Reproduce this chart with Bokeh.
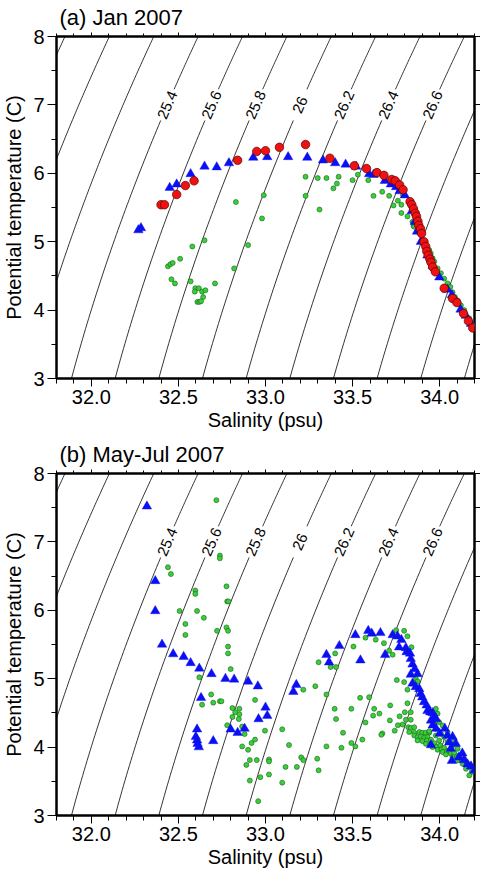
import numpy as np
from bokeh.plotting import figure
from bokeh.models import Range1d, LinearAxis, FixedTicker, PrintfTickFormatter, CustomJSTickFormatter
from bokeh.layouts import column
from bokeh.embed import file_html
from bokeh.resources import INLINE
from bokeh.core.properties import value

# ---------------- data ----------------
x_major_ticks = [32.0, 32.5, 33.0, 33.5, 34.0]
x_minor_ticks = [round(31.8 + 0.1 * i, 1) for i in range(25)]
y_major_ticks = [3, 4, 5, 6, 7, 8]
y_minor_ticks = [3.5, 4.5, 5.5, 6.5, 7.5]
y_right_ticks = [3, 3.5, 4, 4.5, 5, 5.5, 6, 6.5, 7, 7.5, 8]

sigma_levels = [24.4, 24.6, 24.8, 25.0, 25.2, 25.4, 25.6, 25.8, 26.0, 26.2,
                26.4, 26.6, 26.8, 27.0, 27.2, 27.4, 27.6]
label_levels = [25.4, 25.6, 25.8, 26.0, 26.2, 26.4, 26.6]
label_texts = ["25.4", "25.6", "25.8", "26", "26.2", "26.4", "26.6"]
label_temp = 7.0

# Panel (a) Jan 2007
a_red_S = [32.40, 32.42, 32.49, 32.54, 32.59, 32.84, 32.95, 33.00, 33.08, 33.23,
           33.37, 33.51, 33.58, 33.64, 33.68, 33.725, 33.745, 33.77, 33.79, 33.83,
           33.84, 33.85, 33.86, 33.867, 33.875, 33.88, 33.89, 33.896, 33.91, 33.92,
           33.926, 33.934, 33.944, 33.95, 33.96, 33.975, 34.026, 34.074, 34.099, 34.137,
           34.165, 34.19]
a_red_T = [5.54, 5.54, 5.69, 5.82, 5.89, 6.19, 6.32, 6.33, 6.38, 6.42,
           6.22, 6.11, 6.07, 6.01, 5.97, 5.91, 5.89, 5.83, 5.76, 5.585,
           5.54, 5.48, 5.415, 5.37, 5.30, 5.24, 5.19, 5.12, 5.00, 4.93,
           4.86, 4.80, 4.745, 4.70, 4.63, 4.56, 4.32, 4.17, 4.11, 3.95,
           3.84, 3.74]

a_blue_S = [32.27, 32.285, 32.45, 32.49, 32.57, 32.65, 32.72, 32.79, 32.93, 33.01,
            33.13, 33.24, 33.33, 33.40, 33.46, 33.52, 33.595, 33.62, 33.685, 33.72,
            33.75, 33.77, 33.80, 33.84, 33.857, 33.87, 33.892, 33.93, 33.96, 33.998,
            34.045, 34.07, 34.12, 34.15, 34.18]
a_blue_T = [5.17, 5.20, 5.79, 5.84, 5.99, 6.10, 6.09, 6.15, 6.23, 6.24,
            6.24, 6.23, 6.19, 6.15, 6.13, 6.10, 5.99, 5.98, 5.89, 5.84,
            5.80, 5.74, 5.68, 5.45, 5.29, 5.15, 5.00, 4.80, 4.65, 4.48,
            4.30, 4.22, 4.01, 3.92, 3.80]

a_green_S = [32.83, 32.99, 32.98, 32.90, 32.82, 32.65, 32.58, 32.51, 32.44, 32.454,
             32.467, 32.46, 32.48, 32.57, 32.597, 32.617, 32.636, 32.655, 32.594, 32.642,
             32.609, 32.62, 32.63, 32.71,
             33.23, 33.30, 33.35, 33.42, 33.23, 33.31, 33.39, 33.41, 33.50, 33.53,
             33.59, 33.62, 33.67, 33.71, 33.735, 33.78, 33.76, 33.78, 33.815, 33.79,
             33.85, 33.844, 33.854, 33.869, 33.921, 33.940, 33.949, 33.959, 33.969, 33.988,
             34.007, 34.026, 34.045, 34.061, 34.074, 34.088, 34.103, 34.122, 34.141, 34.170,
             34.189]
a_green_T = [5.58, 5.68, 5.34, 4.95, 4.61, 5.02, 4.93, 4.75, 4.64, 4.67,
             4.69, 4.45, 4.39, 4.42, 4.32, 4.32, 4.27, 4.29, 4.27, 4.19,
             4.12, 4.12, 4.13, 4.39,
             5.95, 5.93, 5.93, 5.95, 5.67, 5.47, 5.78, 5.85, 5.90, 5.98,
             5.90, 5.67, 5.73, 5.67, 5.53, 5.42, 5.60, 5.54, 5.37, 5.68,
             5.23, 5.29, 5.22, 5.15, 4.93, 4.88, 4.83, 4.76, 4.71, 4.61,
             4.54, 4.46, 4.39, 4.34, 4.26, 4.19, 4.14, 4.07, 4.00, 3.88,
             3.79]

# Panel (b) May-Jul 2007
b_blue_S = [32.319, 32.367, 32.367, 32.406, 32.47, 32.53, 32.57, 32.62, 32.69, 32.77,
            32.82, 32.90, 32.956, 32.63, 33.00, 33.01, 32.96, 32.80, 32.84, 32.88,
            32.607, 32.60, 32.607, 32.61, 32.617, 32.70, 33.177, 33.16, 33.35, 33.365,
            33.424, 33.516, 33.545, 33.59, 33.61, 33.66, 33.73, 33.687, 33.758, 33.78,
            33.767, 33.806, 33.81, 33.83, 33.834, 33.844, 33.857, 33.873, 33.834, 33.844,
            33.863, 33.883, 33.89, 33.90, 33.91, 33.925, 33.93, 33.946, 33.96, 33.97,
            33.98, 33.95, 33.96, 33.98, 34.00, 34.03, 34.045, 34.074, 34.055, 34.093,
            34.064, 34.13, 34.11, 34.14, 34.16, 34.18, 34.20, 34.07, 33.95]
b_blue_T = [7.52, 6.43, 5.99, 5.50, 5.36, 5.32, 5.23, 5.15, 5.07, 5.00,
            4.99, 4.96, 4.89, 4.72, 4.58, 4.46, 4.41, 4.26, 4.21, 4.27,
            4.26, 4.15, 4.10, 4.05, 4.00, 4.09, 4.91, 4.81, 5.35, 5.24,
            5.48, 5.64, 5.27, 5.70, 5.66, 5.67, 5.64, 5.35, 5.62, 5.57,
            5.46, 5.45, 5.39, 5.37, 5.29, 5.21, 5.14, 5.07, 5.06, 4.93,
            4.88, 4.85, 4.78, 4.73, 4.66, 4.61, 4.53, 4.51, 4.50, 4.44,
            4.41, 4.39, 4.32, 4.27, 4.20, 4.27, 4.17, 4.15, 4.07, 4.05,
            3.98, 3.91, 3.85, 3.81, 3.75, 3.72, 3.66, 3.80, 4.03]

b_green_S = [32.718, 32.738, 32.738, 32.44, 32.457, 32.597, 32.597, 32.776, 32.78, 32.787,
             32.507, 32.607, 32.646, 32.54, 32.54, 32.722, 32.776, 32.785, 32.785, 32.785,
             32.80, 32.62, 32.688, 32.70, 32.636, 32.738, 32.747, 32.81, 32.85, 32.81,
             32.826, 32.85, 32.847, 32.78, 32.866, 32.88, 32.92, 32.94, 32.90, 32.866,
             32.94, 32.997, 33.02, 33.02, 32.95, 32.91, 32.89, 32.91, 32.97, 33.02,
             32.958, 33.096, 33.135, 33.115, 33.18, 33.096, 33.205,
             33.305, 33.374, 33.405, 33.40, 33.505, 33.574, 33.633, 33.68, 33.75, 33.73,
             33.71, 33.217, 33.286, 33.35, 33.543, 33.595, 33.397, 33.493, 33.405, 33.624,
             33.654, 33.618, 33.716, 33.574, 33.714, 33.445, 33.671, 33.665, 33.742, 33.493,
             33.516, 33.556, 33.35, 33.436, 33.217, 33.297, 33.305,
             33.796, 33.815, 33.838, 33.754, 33.796, 33.815, 33.815, 33.77, 33.80, 33.834,
             33.806, 33.787, 33.834, 33.76, 33.82, 33.834, 33.854, 33.825, 33.854, 33.883,
             33.90, 33.92, 33.94, 33.863, 33.873, 33.978, 33.988,
             33.854, 33.873, 33.892, 33.911, 33.930, 33.873, 33.902, 33.927, 33.950, 33.921,
             33.946, 33.969, 33.959, 33.984, 34.003, 33.988, 34.011, 34.026, 34.017, 34.042,
             34.055, 34.036, 34.065, 34.084, 34.074, 34.099, 34.113, 34.103, 34.126, 34.141,
             34.132, 34.157, 34.170, 34.151, 34.184, 34.170, 33.997, 33.978, 34.007, 34.026,
             34.045, 34.074, 34.103, 33.940, 33.978, 34.017, 33.997, 33.969, 34.045, 34.084]
b_green_T = [7.61, 6.80, 6.76, 6.63, 6.53, 6.29, 6.24, 6.35, 6.13, 6.13,
             5.99, 5.99, 5.89, 5.80, 5.64, 5.70, 5.75, 5.70, 5.47, 5.37,
             5.14, 5.02, 4.77, 4.65, 4.62, 4.67, 4.67, 4.57, 4.56, 4.44,
             4.51, 4.48, 4.41, 4.32, 4.30, 4.19, 4.06, 4.11, 3.96, 4.01,
             4.69, 4.24, 3.82, 3.79, 3.81, 3.81, 3.74, 3.51, 3.56, 3.60,
             3.21, 4.26, 4.03, 3.71, 3.71, 3.48, 3.85,
             5.24, 5.17, 5.17, 5.37, 5.47, 5.60, 5.57, 5.52, 5.71, 5.35,
             5.41, 4.84, 4.89, 4.77, 4.72, 4.73, 4.56, 4.56, 4.41, 4.56,
             4.49, 4.46, 4.61, 4.36, 4.39, 4.21, 4.20, 4.18, 4.24, 4.06,
             4.01, 4.11, 4.01, 3.99, 3.81, 3.83, 3.66,
             5.70, 5.62, 5.46, 4.98, 4.95, 4.84, 4.64, 4.45, 4.51, 4.51,
             4.40, 4.33, 4.40, 4.32, 4.29, 4.28, 4.29, 4.22, 4.21, 4.22,
             4.21, 4.21, 4.21, 5.00, 4.96, 4.56, 4.49,
             4.17, 4.145, 4.155, 4.136, 4.146, 4.097, 4.087, 4.097, 4.107, 4.048,
             4.038, 4.058, 4.000, 4.009, 4.024, 3.961, 3.970, 3.990, 3.927, 3.941,
             3.951, 3.893, 3.902, 3.912, 3.854, 3.863, 3.878, 3.805, 3.815, 3.829,
             3.756, 3.766, 3.708, 3.683, 3.635, 3.586, 4.097, 4.170, 4.194, 4.146,
             4.073, 4.024, 3.975, 4.233, 4.267, 4.316, 4.365, 4.340, 4.218, 4.097]

# ---------------- helpers ----------------
FONT = "Liberation Sans"
X0, X1, Y0, Y1 = 31.8, 34.2, 3.0, 8.0
FW, FH = 418, 342


def sigma0(S, T):
    rw = (999.842594 + 6.793952e-2 * T - 9.095290e-3 * T**2 + 1.001685e-4 * T**3
          - 1.120083e-6 * T**4 + 6.536332e-9 * T**5)
    A = 8.24493e-1 - 4.0899e-3 * T + 7.6438e-5 * T**2 - 8.2467e-7 * T**3 + 5.3875e-9 * T**4
    B = -5.72466e-3 + 1.0227e-4 * T - 1.6546e-6 * T**2
    C = 4.8314e-4
    return rw + A * S + B * S**1.5 + C * S**2 - 1000.0


def salinity_on(level, T):
    T = np.asarray(T, dtype=float)
    lo = np.full_like(T, 20.0)
    hi = np.full_like(T, 40.0)
    for _ in range(60):
        mid = 0.5 * (lo + hi)
        f = sigma0(mid, T) - level
        lo = np.where(f < 0, mid, lo)
        hi = np.where(f < 0, hi, mid)
    return 0.5 * (lo + hi)


def contours():
    pxS = FW / (X1 - X0)
    pxT = FH / (Y1 - Y0)
    xs, ys = [], []
    lx, ly, la, lt = [], [], [], []
    for lev in sigma_levels:
        idx = [i for i, l in enumerate(label_levels) if abs(l - lev) < 1e-6]
        if idx:
            t0 = label_temp
            s0 = float(salinity_on(lev, [t0])[0])
            d = 0.01
            dS = float((salinity_on(lev, [t0 + d])[0] - salinity_on(lev, [t0 - d])[0]) / (2 * d))
            seglen = np.hypot(dS * pxS, pxT)
            half = 17.0 / seglen
            for ta, tb in [(2.5, t0 - half), (t0 + half, 8.5)]:
                T = np.linspace(ta, tb, 60)
                xs.append(list(salinity_on(lev, T)))
                ys.append(list(T))
            lx.append(s0)
            ly.append(t0)
            la.append(float(np.arctan2(pxT, dS * pxS)))
            lt.append(label_texts[idx[0]])
        else:
            T = np.linspace(2.5, 8.5, 120)
            xs.append(list(salinity_on(lev, T)))
            ys.append(list(T))
    return xs, ys, lx, ly, la, lt


CX, CY, LX, LY, LA, LT = contours()


def blank():
    return CustomJSTickFormatter(code="return ''")


def style_axis(ax):
    ax.axis_line_color = None
    ax.major_tick_line_color = "black"
    ax.minor_tick_line_color = "black"
    ax.major_tick_line_width = 1
    ax.minor_tick_line_width = 1
    ax.major_tick_in = 0
    ax.minor_tick_in = 0
    ax.major_label_text_font = FONT
    ax.major_label_text_font_size = "20px"
    ax.major_label_text_color = "black"
    ax.axis_label_text_font = FONT
    ax.axis_label_text_font_size = "20px"
    ax.axis_label_text_font_style = "normal"
    ax.axis_label_text_color = "black"


def make_panel(title, green_S, green_T, blue_S, blue_T, red_S=None, red_T=None,
               border_top=34, border_bottom=56):
    p = figure(x_range=Range1d(X0, X1), y_range=Range1d(Y0, Y1),
               frame_width=FW, frame_height=FH,
               min_border_left=51, min_border_right=4,
               min_border_top=border_top, min_border_bottom=border_bottom,
               x_axis_type=None, y_axis_type=None,
               output_backend="svg", toolbar_location=None,
               background_fill_color="white", border_fill_color="white")
    p.xgrid.visible = False
    p.ygrid.visible = False
    p.outline_line_color = "black"
    p.outline_line_width = 2.5

    p.title.text = title
    p.title.align = "left"
    p.title.text_font = FONT
    p.title.text_font_size = "22px"
    p.title.text_font_style = "normal"
    p.title.text_color = "black"
    p.title.offset = 3
    p.title.standoff = 5

    bottom = LinearAxis(ticker=FixedTicker(ticks=x_major_ticks, minor_ticks=x_minor_ticks),
                        formatter=PrintfTickFormatter(format="%.1f"),
                        axis_label="Salinity (psu)")
    style_axis(bottom)
    bottom.major_tick_out = 8
    bottom.minor_tick_out = 5
    bottom.major_label_standoff = 3
    bottom.axis_label_standoff = 2
    p.add_layout(bottom, "below")

    left = LinearAxis(ticker=FixedTicker(ticks=y_major_ticks, minor_ticks=y_minor_ticks),
                      formatter=PrintfTickFormatter(format="%d"),
                      axis_label="Potential temperature (C)")
    style_axis(left)
    left.major_tick_out = 9
    left.minor_tick_out = 5
    left.major_label_standoff = 3
    left.axis_label_standoff = 5
    p.add_layout(left, "left")

    right = LinearAxis(ticker=FixedTicker(ticks=y_right_ticks, minor_ticks=[]),
                       formatter=blank())
    style_axis(right)
    right.major_tick_out = 6
    right.minor_tick_out = 0
    right.major_label_standoff = 0
    p.add_layout(right, "right")

    top = LinearAxis(ticker=FixedTicker(ticks=x_major_ticks, minor_ticks=x_minor_ticks),
                     formatter=blank())
    style_axis(top)
    top.major_tick_out = 4
    top.minor_tick_out = 3
    top.major_label_standoff = 0
    p.add_layout(top, "above")

    p.multi_line(CX, CY, line_color="black", line_width=0.8)
    p.text(LX, LY, text=LT, angle=LA, text_align="center", text_baseline="middle",
           text_font=value(FONT), text_font_size="15px", text_color="black")

    p.scatter(green_S, green_T, marker="circle", size=5, fill_color="#38d038",
              line_color="#1d5e1d", line_width=0.6)
    p.scatter(blue_S, blue_T, marker="triangle", size=9.5, fill_color="#0a10f2",
              line_color="#0a10f2", line_width=0.4)
    if red_S is not None:
        p.scatter(red_S, red_T, marker="circle", size=8.5, fill_color="#f01212",
                  line_color="#5a0000", line_width=0.7)
    return p


p1 = make_panel("(a) Jan 2007", a_green_S, a_green_T, a_blue_S, a_blue_T,
                a_red_S, a_red_T, border_top=34, border_bottom=56)
p2 = make_panel("(b) May-Jul 2007", b_green_S, b_green_T, b_blue_S, b_blue_T,
                border_top=39, border_bottom=52)

layout = column(p1, p2, spacing=0)
open("out.html", "w").write(file_html(layout, INLINE))
